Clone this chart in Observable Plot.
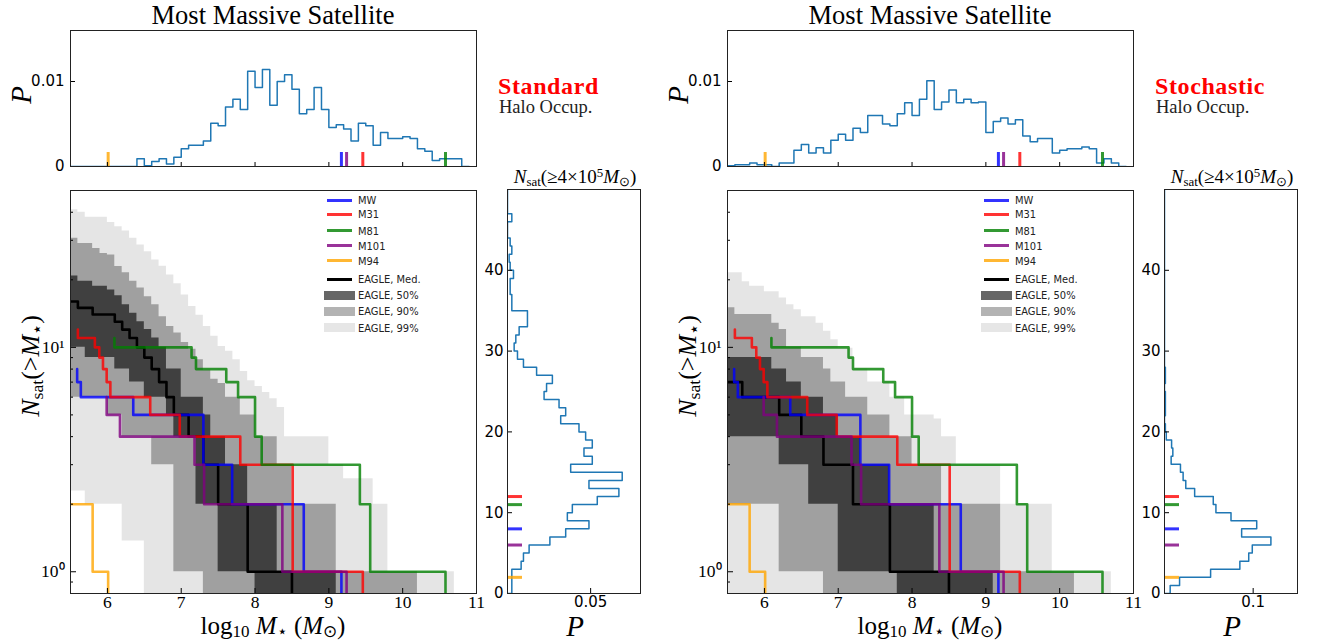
<!DOCTYPE html>
<html><head><meta charset="utf-8">
<script src="https://cdn.jsdelivr.net/npm/d3@7"></script>
<script src="https://cdn.jsdelivr.net/npm/@observablehq/plot@0.6"></script>
<style>
html,body{margin:0;padding:0;background:#fff;}
#fig{position:relative;width:1325px;height:642px;overflow:hidden;font-family:"Liberation Serif",serif;color:#000;}
.lbl{position:absolute;white-space:nowrap;line-height:0.75;}
.lbl sub{font-size:0.68em;vertical-align:-0.22em;line-height:0;}
.lbl sup{font-size:0.68em;vertical-align:0.45em;line-height:0;}
.leg{position:absolute;white-space:nowrap;font-family:"DejaVu Sans Condensed","DejaVu Sans",sans-serif;font-stretch:condensed;font-size:11px;color:#222;line-height:1;transform:translateY(-50%);}
.sw{position:absolute;}
</style></head>
<body><div id="fig"></div>
<script>
// ---------------- DATA ----------------
// grid of stellar-mass bins (log10 M*), 0.1 dex wide starting at 5.5
const binStart = 5.5, binWidth = 0.1;

// observed hosts
const hostNames  = ["MW", "M31", "M81", "M101", "M94"];
const hostColors = ["#0000ff", "#ff0000", "#008000", "#800080", "#ffa500"];
const satMW   = [9.17, 8.66, 7.69, 7.30, 7.30, 6.35, 5.64, 5.59];
const satM31  = [9.46, 8.51, 8.51, 7.80, 6.98, 6.58, 6.04, 5.99, 5.94, 5.89, 5.83, 5.60];
const satM81  = [10.58, 9.56, 9.42, 8.09, 8.00, 8.00, 7.77, 7.61, 7.20, 7.14, 6.095];
const satM101 = [9.24, 8.37, 7.31, 7.18, 6.17, 5.99];
const satM94  = [6.01, 5.80];
const hostSats = [satMW, satM31, satM81, satM101, satM94];
const hostLineStart = [null, null, null, null, 5.3]; // M94 curve drawn from the left edge

// EAGLE, Standard halo occupation: N_sat(>M*) per bin
const hi99L = [41,40,38,38,38,36,34.5,33,30.6,28.6, 26.7,24.5,23,21,19.2,17.1,15.2,13.9,12.4,11.2, 10.1,9.6,8.8,7.8,7.1,6.7,6.3,5.9,5.4,4, 4,4,4,4,4,3,3,2.6,2.6,2.6, 2.6,2,2,1,1,1,1,1,1,1, 1,1,0,0];
const lo99L = [2.29,2.29,2,2,2,2,2,1.37,1.37,1.37, 0,0,0,0,0,0,0,0,0,0, 0,0,0,0,0,0,0,0,0,0, 0,0,0,0,0,0,0,0,0,0, 0,0,0,0,0,0,0,0,0,0, 0,0,0,0];
const hi90L = [30.6,29,29,27.6,26.2,25.8,22.9,21.5,19.7,18.4, 16.8,15.5,13.7,12.4,11.6,10.5,9.8,8.8,7.9,7.2, 6.9,6,6,5,5,4,4,4,3,3, 2,2,2,2,2,2,1,1,1,1, 1,1,1,1,1,1,1,0,0,0, 0,0,0,0];
const lo90L = [6,6,6,6,6,5,5,4,4,4, 4,3,3,3,1,1,1,1,0,0, 0,0,0,0,0,0,0,0,0,0, 0,0,0,0,0,0,0,0,0,0, 0,0,0,0,0,0,0,0,0,0, 0,0,0,0];
const hi50L = [20.8,19.7,19.7,18.7,18.7,18,17,15.5,14.2,13, 12,11,10,8,8,6,6,6,5,4, 4,3,3,3,2,2,2,2,1,1, 1,1,1,1,1,1,0,0,0,0, 0,0,0,0,0,0,0,0,0,0, 0,0,0,0];
const lo50L = [10,10,9,9,9,9,8,8,7,7, 6,6,6,5,4,4,4,2,2,2, 1,1,1,1,1,0,0,0,0,0, 0,0,0,0,0,0,0,0,0,0, 0,0,0,0,0,0,0,0,0,0, 0,0,0,0];
const medL  = [16,15,15,14,14,14,13,12,11,10, 9,8,7,6,5,5,4,4,3,3, 2,2,2,2,1,1,1,1,1,1, 0,0,0,0,0,0,0,0,0,0, 0,0,0,0,0,0,0,0,0,0, 0,0,0,0];

// EAGLE, Stochastic halo occupation
const hi99R = [21.5,21.5,19.6,18.7,18.7,17.7,17.7,16.6,15.5,14.7, 13.7,13.7,12.8,11.8,10.8,9.9,9.9,8,8,7, 7,7,6,6,5,5,5,5,4.8,4, 4,3,3,3,3,3,3,2,2,2, 2,2,2,2,1,1,1,1,1,1, 1,1,0,0];
const lo99R = [0,0,0,0,0,0,0,0,0,0, 0,0,0,0,0,0,0,0,0,0, 0,0,0,0,0,0,0,0,0,0, 0,0,0,0,0,0,0,0,0,0, 0,0,0,0,0,0,0,0,0,0, 0,0,0,0];
const hi90R = [15,14,14,14,14,14,12.8,12,10,10, 9,9,9,8,7,7,6,6,6,5, 5,5,4,4,4,3,3,3,3,2, 2,2,2,2,2,2,2,1,1,1, 1,1,1,1,1,1,1,0,0,0, 0,0,0,0];
const lo90R = [2,2,2,2,2,2,2,1,1,1, 1,1,1,0,0,0,0,0,0,0, 0,0,0,0,0,0,0,0,0,0, 0,0,0,0,0,0,0,0,0,0, 0,0,0,0,0,0,0,0,0,0, 0,0,0,0];
const hi50R = [9,9,9,9,9,9,8,8,7,7, 6,6,6,5,5,4,4,4,3,3, 3,3,2,2,2,2,2,2,1,1, 1,1,1,1,1,1,0,0,0,0, 0,0,0,0,0,0,0,0,0,0, 0,0,0,0];
const lo50R = [4,4,4,4,4,4,4,3,3,3, 3,2,2,2,2,1,1,1,1,1, 1,1,1,0,0,0,0,0,0,0, 0,0,0,0,0,0,0,0,0,0, 0,0,0,0,0,0,0,0,0,0, 0,0,0,0];
const medR  = [7,7,6,6,6,6,6,5,5,5, 4,4,4,3,3,3,3,2,2,2, 2,2,1,1,1,1,1,1,1,1, 0,0,0,0,0,0,0,0,0,0, 0,0,0,0,0,0,0,0,0,0, 0,0,0,0];

// P(most massive satellite mass), same 0.1 dex bins
const topL = [0,0,0,0,0,0,0,0,0,0.0009, 0.0001,0.0006,0.0009,0.0003,0.0011,0.0021,0.0025,0.0025,0.003,0.0051, 0.0048,0.007,0.0079,0.0067,0.0112,0.0093,0.0114,0.0072,0.010,0.0108, 0.0091,0.0062,0.0067,0.0093,0.0067,0.0046,0.0049,0.0044,0.003,0.0051, 0.0048,0.0025,0.004,0.0033,0.0033,0.0035,0.0033,0.0021,0.0018,0.0007, 0.0009,0.0009,0.0009,0];
const topR = [0.0001,0.0002,0.0002,0.0004,0.0002,0.0002,0,0.0004,0.0004,0.0019, 0.0026,0.0016,0.0022,0.0016,0.0031,0.0038,0.0031,0.0045,0.004,0.006, 0.006,0.005,0.0048,0.0062,0.0075,0.006,0.0079,0.0101,0.0067,0.0076, 0.009,0.0075,0.0079,0.0075,0.0076,0.004,0.0053,0.0057,0.005,0.0055, 0.0036,0.0029,0.0033,0.0033,0.0016,0.0019,0.0021,0.0021,0.0023,0.0021, 0.0004,0.0009,0.0004,0];

// P(N_sat >= 4e5 Msun), bins N = 0..49
const sideL = [0.0026,0.0026,0.0026,0.0082,0.0096,0.013,0.0255,0.035,0.049,0.036, 0.039,0.054,0.067,0.049,0.069,0.038,0.051,0.046,0.051,0.047, 0.043,0.032,0.035,0.031,0.022,0.0235,0.027,0.0175,0.0096,0.006, 0.004,0.005,0.007,0.012,0.012,0.0026,0.0026,0.0016,0.0016,0.0036, 0.0016,0.001,0.0026,0.0016,0,0,0.0026,0,0,0];
const sideR = [0.0064,0.017,0.052,0.085,0.095,0.099,0.12,0.087,0.104,0.075, 0.058,0.055,0.034,0.024,0.021,0.018,0.0075,0.0094,0.008,0.002, 0.001,0,0.001,0.001,0.001,0,0.001,0.001,0,0, 0,0,0,0,0,0,0,0,0,0, 0,0,0,0,0,0,0,0,0,0];

const xTicks = [6, 7, 8, 9, 10, 11];
const yMajor = [1, 10];
const yMinor = [0.9, 2, 3, 4, 5, 6, 7, 8, 9, 20, 30, 40];
const sideTicks = [0, 10, 20, 30, 40];

// ---------------- HELPERS ----------------
const fig = document.getElementById("fig");
const FLOOR = 0.1; // below log-axis domain; clipped
function place(svg, left, top) {
  svg.style.position = "absolute"; svg.style.left = left + "px"; svg.style.top = top + "px";
  fig.appendChild(svg);
}
function label(html, cx, cy, css = {}, rot = 0, align = "center") {
  const d = document.createElement("div");
  d.className = "lbl"; d.innerHTML = html;
  d.style.left = cx + "px"; d.style.top = cy + "px";
  d.style.transform = (align === "center" ? "translate(-50%,-50%)" : "translate(0,-50%)") + (rot ? ` rotate(${rot}deg)` : "");
  Object.assign(d.style, css);
  fig.appendChild(d);
}
const hosts = hostNames.map((name, i) => ({
  name, color: hostColors[i], sats: hostSats[i], start: hostLineStart[i],
  max: d3.max(hostSats[i]), n: hostSats[i].length
}));
function cumSteps(h) {
  const m = [...h.sats].sort((a, b) => a - b);
  const n = m.length;
  const pts = [{x: h.start ?? m[0], y: n}];
  m.forEach((v, i) => { pts.push({x: v, y: n - i}); pts.push({x: v, y: Math.max(n - i - 1, FLOOR)}); });
  return pts;
}
function bandRows(b) {
  const rows = b.med.map((_, k) => ({
    x: binStart + k * binWidth,
    lo99: Math.max(b.lo99[k], FLOOR), hi99: Math.max(b.hi99[k], FLOOR),
    lo90: Math.max(b.lo90[k], FLOOR), hi90: Math.max(b.hi90[k], FLOOR),
    lo50: Math.max(b.lo50[k], FLOOR), hi50: Math.max(b.hi50[k], FLOOR),
    med: Math.max(b.med[k], FLOOR)
  }));
  const last = rows[rows.length - 1];
  rows.push({...last, x: binStart + rows.length * binWidth});
  return rows;
}
function hstep(p) {
  const pts = [{x: binStart, y: 0}];
  p.forEach((v, k) => { pts.push({x: binStart + k * binWidth, y: v}); pts.push({x: binStart + (k + 1) * binWidth, y: v}); });
  pts.push({x: binStart + p.length * binWidth, y: 0});
  return pts;
}
function vstep(p) {
  const pts = [{x: 0, y: 0}];
  p.forEach((v, i) => { pts.push({x: v, y: i}); pts.push({x: v, y: i + 1}); });
  pts.push({x: 0, y: p.length});
  return pts;
}

const MAIN = {W: 490, H: 450, ml: 70, mr: 14, mt: 10, mb: 37};
const mainFW = MAIN.W - MAIN.ml - MAIN.mr, mainFH = MAIN.H - MAIN.mt - MAIN.mb;
const TOP = {W: 490, H: 160, ml: 70, mr: 14, mt: 10, mb: 14};
const topFW = TOP.W - TOP.ml - TOP.mr, topFH = TOP.H - TOP.mt - TOP.mb;
const SIDE = {W: 190, H: 450, ml: 47, mr: 10, mt: 9, mb: 37};
const sideFW = SIDE.W - SIDE.ml - SIDE.mr, sideFH = SIDE.H - SIDE.mt - SIDE.mb;

function topPlot(p) {
  return Plot.plot({
    width: TOP.W, height: TOP.H, marginLeft: TOP.ml, marginRight: TOP.mr, marginTop: TOP.mt, marginBottom: TOP.mb,
    x: {domain: [5.5, 11], axis: null}, y: {domain: [0, 0.016]},
    style: {fontFamily: "DejaVu Sans", fontSize: "15px", background: "transparent", color: "black"},
    marks: [
      Plot.line(hstep(p), {x: "x", y: "y", stroke: "#1f77b4", strokeWidth: 1.5, clip: true}),
      ...hosts.map(h => Plot.tickX([h], {x: "max", stroke: h.color, strokeWidth: 3, strokeOpacity: 0.8, insetTop: topFH - 14})),
      Plot.tickX(xTicks, {x: d => d, insetTop: topFH - 4, strokeWidth: 1}),
      Plot.tickY([0, 0.01], {y: d => d, insetRight: topFW - 5}),
      Plot.axisY({ticks: [0, 0.01], tickSize: 0, tickPadding: 6, label: null, tickFormat: d => d === 0 ? "0" : "0.01"}),
      Plot.frame({stroke: "#222"})
    ]
  });
}
function mainPlot(b) {
  const rows = bandRows(b);
  return Plot.plot({
    width: MAIN.W, height: MAIN.H, marginLeft: MAIN.ml, marginRight: MAIN.mr, marginTop: MAIN.mt, marginBottom: MAIN.mb,
    x: {domain: [5.5, 11]}, y: {type: "log", domain: [0.8, 50]},
    style: {fontFamily: "Liberation Serif", fontSize: "17.5px", background: "transparent", color: "black"},
    marks: [
      Plot.areaY(rows, {x: "x", y1: "lo99", y2: "hi99", curve: "step-after", fill: "black", fillOpacity: 0.1, clip: true}),
      Plot.areaY(rows, {x: "x", y1: "lo90", y2: "hi90", curve: "step-after", fill: "black", fillOpacity: 0.3, clip: true}),
      Plot.areaY(rows, {x: "x", y1: "lo50", y2: "hi50", curve: "step-after", fill: "black", fillOpacity: 0.6, clip: true}),
      Plot.line(rows, {x: "x", y: "med", curve: "step-after", stroke: "black", strokeWidth: 2.6, clip: true}),
      ...hosts.map(h => Plot.line(cumSteps(h), {x: "x", y: "y", stroke: h.color, strokeOpacity: 0.8, strokeWidth: 2.6, clip: true})),
      Plot.tickX(xTicks, {x: d => d, insetTop: mainFH - 5}),
      Plot.tickY(yMajor, {y: d => d, insetRight: mainFW - 6}),
      Plot.tickY(yMinor, {y: d => d, insetRight: mainFW - 3}),
      Plot.axisX({ticks: xTicks, tickSize: 0, tickPadding: 2, label: null, tickFormat: d => String(d)}),
      Plot.axisY({ticks: yMajor, tickSize: 0, tickPadding: 6, label: null, tickFormat: d => d === 1 ? "10⁰" : "10¹"}),
      Plot.frame({stroke: "#222"})
    ]
  });
}
function sidePlot(p, xmax, xt, xtLabel) {
  return Plot.plot({
    width: SIDE.W, height: SIDE.H, marginLeft: SIDE.ml, marginRight: SIDE.mr, marginTop: SIDE.mt, marginBottom: SIDE.mb,
    x: {domain: [0, xmax]}, y: {domain: [0, 50]},
    style: {fontFamily: "DejaVu Sans", fontSize: "15px", background: "transparent", color: "black"},
    marks: [
      Plot.line(vstep(p), {x: "x", y: "y", stroke: "#1f77b4", strokeWidth: 1.5, clip: true}),
      ...hosts.map(h => Plot.tickY([h], {y: "n", stroke: h.color, strokeWidth: 3, strokeOpacity: 0.8, insetRight: sideFW - 15})),
      Plot.tickY(sideTicks, {y: d => d, insetRight: sideFW - 5}),
      Plot.tickX([xt], {x: d => d, insetTop: sideFH - 5}),
      Plot.axisY({ticks: sideTicks, tickSize: 0, tickPadding: 4, label: null, tickFormat: d => String(d)}),
      Plot.axisX({ticks: [xt], tickSize: 0, tickPadding: 3, label: null, tickFormat: () => xtLabel}),
      Plot.frame({stroke: "#222"})
    ]
  });
}

// ---------------- BUILD ----------------
const groups = [
  {ox: 0, top: topL, side: sideL, sideMax: 0.08, sideTick: 0.05, sideTickLabel: "0.05",
   band: {hi99: hi99L, lo99: lo99L, hi90: hi90L, lo90: lo90L, hi50: hi50L, lo50: lo50L, med: medL},
   name: "Standard"},
  {ox: 657, top: topR, side: sideR, sideMax: 0.15, sideTick: 0.1, sideTickLabel: "0.1",
   band: {hi99: hi99R, lo99: lo99R, hi90: hi90R, lo90: lo90R, hi50: hi50R, lo50: lo50R, med: medR},
   name: "Stochastic"}
];

const legendLines = [
  ...hosts.map((h, i) => ({text: h.name, color: h.color, y: [200, 214, 230.5, 245.5, 260.5][i]})),
  {text: "EAGLE, Med.", color: "#000", y: 279}
];
const legendPatches = [
  {text: "EAGLE, 50%", color: "#666666", y: 295},
  {text: "EAGLE, 90%", color: "#b3b3b3", y: 311},
  {text: "EAGLE, 99%", color: "#e6e6e6", y: 327.5}
];

for (const g of groups) {
  const ox = g.ox;
  place(topPlot(g.top), ox, 20);
  place(mainPlot(g.band), ox, 180);
  place(sidePlot(g.side, g.sideMax, g.sideTick, g.sideTickLabel), ox + 460, 180);

  label("Most Massive Satellite", ox + 273, 16, {fontSize: "26.5px"});
  label(g.name, ox + 498, 86, {fontSize: "24px", fontWeight: "bold", color: "#ff0000", letterSpacing: "0.6px"}, 0, "left");
  label("Halo Occup.", ox + 499, 108, {fontSize: "18.5px", color: "#222"}, 0, "left");
  label("<i>P</i>", ox + 22, 95, {fontSize: "29px"}, -90);
  label("<i>N</i><sub>sat</sub>(&gt;<i>M</i><sub>⋆</sub>)", ox + 31, 366, {fontSize: "26px"}, -90);
  label("log<sub>10</sub> <i>M</i><sub>⋆</sub> (<i>M</i><sub>⊙</sub>)", ox + 273, 626, {fontSize: "25px"});
  label("<i>N</i><sub>sat</sub>(≥4×10<sup>5</sup><i>M</i><sub>⊙</sub>)", ox + 575, 177, {fontSize: "19px"});
  label("<i>P</i>", ox + 575, 627, {fontSize: "29px"});

  for (const l of legendLines) {
    const s = document.createElement("div"); s.className = "sw";
    Object.assign(s.style, {left: (ox + 327) + "px", top: (l.y - 1.5) + "px", width: "25px", height: "3px", background: l.color, opacity: l.color === "#000" ? 1 : 0.8});
    fig.appendChild(s);
    const t = document.createElement("div"); t.className = "leg"; t.textContent = l.text;
    Object.assign(t.style, {left: (ox + 358) + "px", top: l.y + "px"});
    fig.appendChild(t);
  }
  for (const l of legendPatches) {
    const s = document.createElement("div"); s.className = "sw";
    Object.assign(s.style, {left: (ox + 324) + "px", top: (l.y - 4.5) + "px", width: "31px", height: "9px", background: l.color});
    fig.appendChild(s);
    const t = document.createElement("div"); t.className = "leg"; t.textContent = l.text;
    Object.assign(t.style, {left: (ox + 358) + "px", top: l.y + "px"});
    fig.appendChild(t);
  }
}
</script>
</body></html>
